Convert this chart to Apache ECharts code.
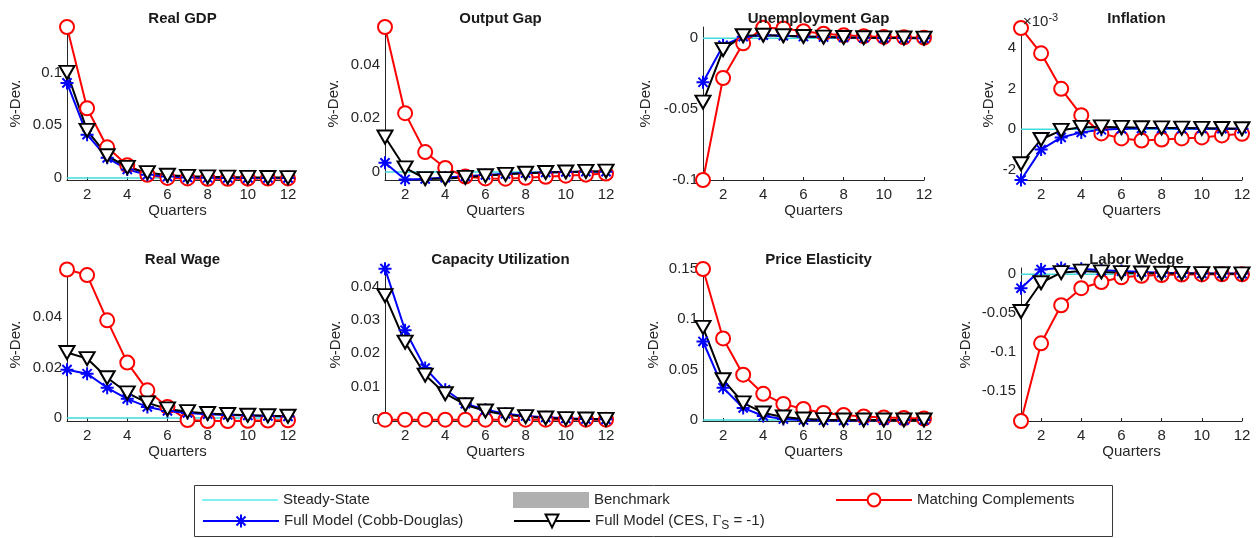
<!DOCTYPE html>
<html>
<head>
<meta charset="utf-8">
<title>Impulse responses</title>
<script src="https://cdn.jsdelivr.net/npm/echarts@6/dist/echarts.min.js"></script>
<style>
  html, body { margin: 0; padding: 0; background: #fff; }
  #chart { width: 1260px; height: 538px; }
</style>
</head>
<body>
<div id="chart"></div>
<script>
// horizon
const quarters = ['1', '2', '3', '4', '5', '6', '7', '8', '9', '10', '11', '12'];
const steadyState = [0, 0, 0, 0, 0, 0, 0, 0, 0, 0, 0, 0];

// Real GDP
const gdpMatch = [0.143, 0.066, 0.029, 0.012, 0.003, 0.0, -0.0005, -0.0008, -0.0008, -0.0007, -0.0006, -0.0005];
const gdpCobb = [0.090, 0.041, 0.019, 0.008, 0.003, 0.0012, 0.0004, 0.0001, 0, 0, 0, 0];
const gdpCes = [0.100, 0.045, 0.021, 0.010, 0.005, 0.0025, 0.0015, 0.001, 0.0007, 0.0005, 0.0004, 0.0003];

// Output Gap
const gapMatch = [0.054, 0.0219, 0.0074, 0.0015, -0.0017, -0.0024, -0.0025, -0.0022, -0.0018, -0.0014, -0.001, -0.0006];
const gapCobb = [0.0034, -0.0028, -0.0026, -0.0021, -0.0016, -0.0011, -0.0007, -0.0004, -0.0002, 0, 0.0001, 0.0001];
const gapCes = [0.013, 0.0015, -0.0025, -0.0025, -0.002, -0.0014, -0.0009, -0.0005, -0.0002, 0, 0.0002, 0.0003];

// Unemployment Gap
const unempMatch = [-0.1, -0.028, -0.0035, 0.0075, 0.007, 0.005, 0.0033, 0.0022, 0.0015, 0.001, 0.0007, 0.0005];
const unempCobb = [-0.031, -0.005, 0.0012, 0.0022, 0.0018, 0.0013, 0.0009, 0.0006, 0.0004, 0.0003, 0.0002, 0.0001];
const unempCes = [-0.045, -0.008, 0.0018, 0.0022, 0.0018, 0.0013, 0.0009, 0.0006, 0.0004, 0.0003, 0.0002, 0.0001];

// Inflation (x 10^-3)
const inflMatch = [5.0, 3.75, 2.0, 0.7, -0.2, -0.45, -0.55, -0.5, -0.45, -0.4, -0.3, -0.22];
const inflCobb = [-2.5, -1.0, -0.4, -0.15, -0.02, 0.03, 0.05, 0.05, 0.04, 0.04, 0.03, 0.03];
const inflCes = [-1.7, -0.5, -0.05, 0.1, 0.12, 0.1, 0.08, 0.07, 0.06, 0.05, 0.04, 0.03];

// Real Wage
const wageMatch = [0.059, 0.0568, 0.0388, 0.022, 0.011, 0.0044, -0.0008, -0.0012, -0.0012, -0.0011, -0.001, -0.0009];
const wageCobb = [0.0192, 0.0176, 0.012, 0.0076, 0.0044, 0.0028, 0.002, 0.0015, 0.0012, 0.001, 0.0008, 0.0006];
const wageCes = [0.026, 0.0236, 0.016, 0.010, 0.006, 0.0036, 0.0025, 0.0018, 0.0014, 0.0011, 0.0009, 0.0007];

// Capacity Utilization
const capMatch = [0, 0, 0, 0, 0, 0, 0, 0, 0, 0, 0, 0];
const capCobb = [0.0454, 0.0269, 0.0155, 0.009, 0.0048, 0.003, 0.0018, 0.0011, 0.0007, 0.0004, 0.0002, 0.0001];
const capCes = [0.0373, 0.0233, 0.0134, 0.0078, 0.0045, 0.0026, 0.0015, 0.0009, 0.0005, 0.0003, 0.0002, 0.0001];

// Price Elasticity
const elastMatch = [0.15, 0.081, 0.045, 0.026, 0.016, 0.011, 0.007, 0.005, 0.0035, 0.0025, 0.002, 0.0015];
const elastCobb = [0.078, 0.032, 0.012, 0.004, 0.001, 0, -0.0003, -0.0004, -0.0003, -0.0002, -0.0001, 0];
const elastCes = [0.092, 0.040, 0.017, 0.007, 0.003, 0.001, 0.0003, 0, 0, 0, 0, 0];

// Labor Wedge
const wedgeMatch = [-0.189, -0.089, -0.040, -0.018, -0.010, -0.004, -0.002, -0.001, -0.0005, -0.0003, -0.0002, -0.0001];
const wedgeCobb = [-0.018, 0.006, 0.008, 0.007, 0.005, 0.004, 0.003, 0.002, 0.0015, 0.001, 0.001, 0.0008];
const wedgeCes = [-0.048, -0.011, 0.002, 0.004, 0.003, 0.002, 0.0015, 0.0012, 0.001, 0.0008, 0.0006, 0.0005];

const STEADY = 'Steady-State';
const BENCH = 'Benchmark';
const MATCH = 'Matching Complements';
const COBB = 'Full Model (Cobb-Douglas)';
const CES = 'Full Model (CES, ΓS = -1)';

const font = "'Liberation Sans', Arial, Helvetica, sans-serif";
const ink = '#262626';
const cyan = '#40dcdc';
const star = 'path://M0,-10L0,10M-10,0L10,0M-7.07,-7.07L7.07,7.07M-7.07,7.07L7.07,-7.07';

// one entry per subplot: [title, matching, cobb, ces, min, max, step, major, nameGap]
const panels = [
  ['Real GDP', gdpMatch, gdpCobb, gdpCes, -0.002, 0.143, 0.001, 0.05, 44],
  ['Output Gap', gapMatch, gapCobb, gapCes, -0.003, 0.054, 0.001, 0.02, 44],
  ['Unemployment Gap', unempMatch, unempCobb, unempCes, -0.1, 0.008, 0.001, 0.05, 50],
  ['Inflation', inflMatch, inflCobb, inflCes, -2.5, 5.05, 0.05, 2, 25],
  ['Real Wage', wageMatch, wageCobb, wageCes, -0.0012, 0.0596, 0.0004, 0.02, 44],
  ['Capacity Utilization', capMatch, capCobb, capCes, -0.0004, 0.0456, 0.0002, 0.01, 42],
  ['Price Elasticity', elastMatch, elastCobb, elastCes, -0.001, 0.151, 0.001, 0.05, 42],
  ['Labor Wedge', wedgeMatch, wedgeCobb, wedgeCes, -0.189, 0.008, 0.001, 0.05, 48]
];

const colLeft = [67, 385, 703, 1021];
const rowTop = [27, 268];
const plotW = 221;
const plotH = 153;

const evenQuarter = (index) => (index + 1) % 2 === 0;

function majorLabel (major) {
  return function (v) {
    const r = v / major;
    return Math.abs(r - Math.round(r)) < 1e-6 ? String(+v.toFixed(6)) : '';
  };
}

const grid = [];
const xAxis = [];
const yAxis = [];
const series = [];
const title = [];

panels.forEach((p, i) => {
  const left = colLeft[i % 4];
  const top = rowTop[Math.floor(i / 4)];
  grid.push({ left: left, top: top, width: plotW, height: plotH });

  title.push({
    text: p[0],
    left: left + plotW / 2,
    top: top - 21,
    textAlign: 'center',
    textStyle: { fontSize: 15, fontWeight: 'bold', color: '#1a1a1a', fontFamily: font }
  });

  xAxis.push({
    gridIndex: i,
    type: 'category',
    data: quarters,
    boundaryGap: false,
    axisLine: { onZero: false, lineStyle: { color: ink, width: 1 } },
    axisTick: { show: true, inside: true, length: 3, interval: evenQuarter, lineStyle: { color: ink } },
    axisLabel: { interval: evenQuarter, color: ink, fontSize: 15, fontFamily: font, margin: 7 },
    splitLine: { show: false },
    name: 'Quarters',
    nameLocation: 'middle',
    nameGap: 23,
    nameTextStyle: { color: ink, fontSize: 15, fontFamily: font }
  });

  yAxis.push({
    gridIndex: i,
    type: 'value',
    min: p[4],
    max: p[5],
    interval: p[6],
    axisLine: { show: true, lineStyle: { color: ink, width: 1 } },
    axisTick: { show: false },
    splitLine: { show: false },
    axisLabel: { formatter: majorLabel(p[7]), color: ink, fontSize: 15, fontFamily: font, margin: 5 },
    name: '%-Dev.',
    nameLocation: 'middle',
    nameRotate: 90,
    nameGap: p[8],
    nameTextStyle: { color: ink, fontSize: 15, fontFamily: font }
  });

  series.push({
    name: STEADY, type: 'line', xAxisIndex: i, yAxisIndex: i,
    data: steadyState, symbol: 'none', silent: true, clip: false,
    lineStyle: { color: cyan, width: 1.5 }, itemStyle: { color: cyan }
  });
  series.push({
    name: MATCH, type: 'line', xAxisIndex: i, yAxisIndex: i,
    data: p[1], symbol: 'emptyCircle', symbolSize: 14, showAllSymbol: true, clip: false,
    lineStyle: { color: '#ff0000', width: 2 }, itemStyle: { color: '#ff0000', borderWidth: 2 }
  });
  series.push({
    name: COBB, type: 'line', xAxisIndex: i, yAxisIndex: i,
    data: p[2], symbol: star, symbolSize: 13, showAllSymbol: true, clip: false,
    lineStyle: { color: '#0000ff', width: 2 },
    itemStyle: { color: '#0000ff', borderColor: '#0000ff', borderWidth: 2 }
  });
  series.push({
    name: CES, type: 'line', xAxisIndex: i, yAxisIndex: i,
    data: p[3], symbol: 'emptyTriangle', symbolRotate: 180, symbolSize: [15, 13],
    showAllSymbol: true, clip: false,
    lineStyle: { color: '#000000', width: 2 }, itemStyle: { color: '#000000', borderWidth: 2 }
  });
});

// legend-only entry
series.push({ name: BENCH, type: 'bar', xAxisIndex: 0, yAxisIndex: 0, data: [], itemStyle: { color: '#b0b0b0' } });

// x10^-3 multiplier on the inflation axis
title.push({
  text: '{a|×10}{b|-3}',
  left: 1018,
  top: 7,
  textStyle: {
    fontWeight: 'normal',
    rich: {
      a: { fontSize: 15, color: ink, fontFamily: font, fontWeight: 'normal' },
      b: { fontSize: 11, color: ink, fontFamily: font, fontWeight: 'normal', padding: [0, 0, 9, 0] }
    }
  }
});

const legendBase = {
  orient: 'horizontal',
  padding: 0,
  itemGap: 0,
  itemWidth: 76,
  itemHeight: 16,
  selectedMode: false,
  formatter: function (name) {
    return name === CES ? 'Full Model (CES, {g|Γ}{s|S} = -1)' : name;
  },
  textStyle: {
    fontSize: 15,
    color: ink,
    fontFamily: font,
    lineHeight: 18,
    rich: {
      g: { fontSize: 15, color: ink, fontFamily: "'Liberation Serif', serif" },
      s: { fontSize: 12, color: ink, fontFamily: font, padding: [10, 0, 0, 0] }
    }
  }
};

const legend = [
  Object.assign({}, legendBase, {
    left: 202, top: 491, itemHeight: 2,
    data: [{ name: STEADY, icon: 'rect', itemStyle: { color: '#80f0f0' } }]
  }),
  Object.assign({}, legendBase, { left: 202, top: 512, data: [COBB] }),
  Object.assign({}, legendBase, { left: 513, top: 491, data: [{ name: BENCH, icon: 'rect' }] }),
  Object.assign({}, legendBase, { left: 513, top: 512, data: [CES] }),
  Object.assign({}, legendBase, { left: 835, top: 491, data: [MATCH] })
];

const chart = echarts.init(document.getElementById('chart'));
chart.setOption({
  animation: false,
  backgroundColor: '#ffffff',
  title: title,
  grid: grid,
  xAxis: xAxis,
  yAxis: yAxis,
  legend: legend,
  graphic: [{
    type: 'rect',
    z: -1,
    shape: { x: 194.5, y: 485.5, width: 918, height: 51 },
    style: { fill: 'none', stroke: '#3a3a3a', lineWidth: 1 }
  }],
  series: series
});
</script>
</body>
</html>
